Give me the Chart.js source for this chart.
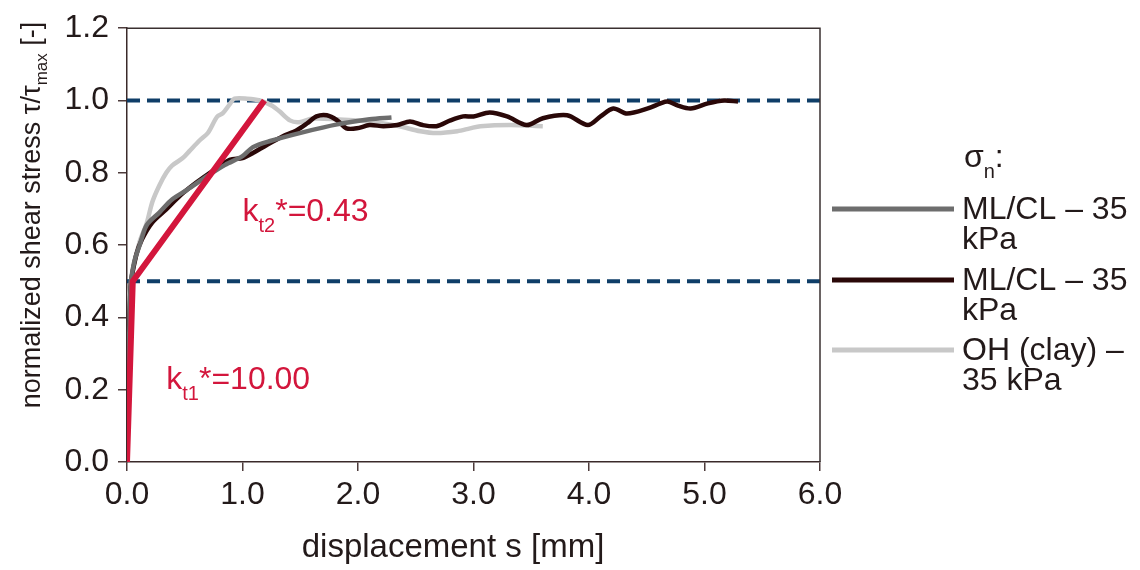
<!DOCTYPE html>
<html lang="en">
<head>
<meta charset="UTF-8">
<title>Shear stress vs displacement</title>
<script src="https://cdn.jsdelivr.net/npm/chart.js"></script>
<style>
  body { margin: 0; background: #ffffff; }
  #wrap { width: 1140px; height: 570px; }
</style>
</head>
<body>
<div id="wrap"><canvas id="myChart" width="1140" height="570"></canvas></div>

<script>
// displacement ticks / value ticks
const xTicks = [0, 1, 2, 3, 4, 5, 6]
const yTicks = [0, 0.2, 0.4, 0.6, 0.8, 1.0, 1.2]

// ML/CL - 35 kPa (grey)
const mlGreyX = [0, 0.03, 0.06, 0.11, 0.17, 0.28, 0.39, 0.52, 0.70, 0.85, 1.0, 1.09, 1.24, 1.52, 1.82, 2.10, 2.29]
const mlGreyY = [0, 0.48, 0.55, 0.60, 0.655, 0.69, 0.726, 0.753, 0.792, 0.822, 0.846, 0.871, 0.888, 0.912, 0.934, 0.948, 0.953]

// ML/CL - 35 kPa (dark)
const mlDarkX = [0, 0.03, 0.08, 0.13, 0.22, 0.34, 0.46, 0.60, 0.74, 0.89, 1.00, 1.09, 1.21, 1.35, 1.47, 1.56, 1.64, 1.73, 1.82, 1.90, 1.99, 2.10, 2.22, 2.34, 2.45, 2.56, 2.68, 2.80, 2.91, 3.00, 3.14, 3.29, 3.46, 3.60, 3.81, 3.99, 4.10, 4.21, 4.33, 4.51, 4.62, 4.68, 4.77, 4.88, 5.03, 5.17, 5.29]
const mlDarkY = [0, 0.48, 0.573, 0.616, 0.663, 0.699, 0.737, 0.773, 0.805, 0.836, 0.841, 0.855, 0.877, 0.901, 0.918, 0.937, 0.956, 0.959, 0.945, 0.923, 0.923, 0.932, 0.929, 0.932, 0.942, 0.932, 0.929, 0.945, 0.956, 0.956, 0.967, 0.956, 0.932, 0.951, 0.959, 0.932, 0.956, 0.978, 0.964, 0.978, 0.992, 0.997, 0.986, 0.978, 0.992, 1.0, 0.997]

// OH (clay) - 35 kPa (light grey)
const ohX = [0, 0.02, 0.05, 0.11, 0.17, 0.22, 0.28, 0.34, 0.39, 0.48, 0.54, 0.63, 0.70, 0.78, 0.83, 0.89, 0.93, 1.04, 1.15, 1.26, 1.32, 1.41, 1.49, 1.61, 1.82, 2.10, 2.34, 2.54, 2.68, 2.86, 2.97, 3.06, 3.32, 3.60]
const ohY = [0, 0.45, 0.53, 0.61, 0.66, 0.72, 0.765, 0.80, 0.82, 0.84, 0.86, 0.89, 0.91, 0.955, 0.965, 0.99, 1.005, 1.005, 1.0, 0.985, 0.97, 0.945, 0.94, 0.95, 0.948, 0.942, 0.93, 0.915, 0.91, 0.915, 0.923, 0.929, 0.932, 0.929]

// bilinear stiffness fit (red)
const fitX = [0, 0.05, 1.19]
const fitY = [0, 0.5, 1.0]

// reference levels (dashed)
const levelX = [0, 6]
const levelHigh = [1.0, 1.0]
const levelLow = [0.5, 0.5]

const fonte = "'Liberation Sans', Arial, sans-serif"
const corTexto = '#231a1a'
const corVermelho = '#d3163c'

function pares(xs, ys) {
    return xs.map((x, i) => ({ x: x, y: ys[i] }))
}

function linha(data, cor, largura, ordem, curva, dash) {
    return {
        data: data,
        showLine: true,
        borderColor: cor,
        borderWidth: largura,
        borderDash: dash || [],
        pointRadius: 0,
        tension: curva,
        order: ordem,
        fill: false
    }
}

// escreve texto com partes subscritas
function textoSub(ctx, x, y, partes) {
    let cx = x
    partes.forEach(p => {
        ctx.font = p[1] + 'px ' + fonte
        ctx.fillText(p[0], cx, y + p[2])
        cx += ctx.measureText(p[0]).width
    })
}

const extras = {
    id: 'extras',
    afterDraw(chart) {
        const ctx = chart.ctx
        const a = chart.chartArea
        const sx = chart.scales.x
        const sy = chart.scales.y
        ctx.save()

        // moldura superior e direita
        ctx.strokeStyle = '#3a3030'
        ctx.lineWidth = 1.5
        ctx.beginPath()
        ctx.moveTo(a.left, a.top)
        ctx.lineTo(a.right, a.top)
        ctx.lineTo(a.right, a.bottom)
        ctx.stroke()

        ctx.textBaseline = 'middle'
        ctx.textAlign = 'left'

        // anotações
        ctx.fillStyle = corVermelho
        textoSub(ctx, sx.getPixelForValue(1.0), sy.getPixelForValue(0.69), [['k', 32, 0], ['t2', 20, 14], ['*=0.43', 32, 0]])
        textoSub(ctx, sx.getPixelForValue(0.34), sy.getPixelForValue(0.225), [['k', 32, 0], ['t1', 20, 14], ['*=10.00', 32, 0]])

        // título eixo x
        ctx.fillStyle = corTexto
        ctx.textAlign = 'center'
        ctx.font = '33px ' + fonte
        ctx.fillText('displacement s [mm]', 453, 548)

        // título eixo y
        ctx.save()
        ctx.translate(33, 215)
        ctx.rotate(-Math.PI / 2)
        ctx.textAlign = 'left'
        ctx.font = '27px ' + fonte
        const p1 = 'normalized shear stress τ/τ'
        const p2 = 'max'
        const p3 = ' [-]'
        const w1 = ctx.measureText(p1).width
        const w3 = ctx.measureText(p3).width
        ctx.font = '17px ' + fonte
        const w2 = ctx.measureText(p2).width
        const x0 = -(w1 + w2 + w3) / 2
        textoSub(ctx, x0, 0, [[p1, 27, 0], [p2, 17, 9], [p3, 27, 0]])
        ctx.restore()

        // legenda
        ctx.textAlign = 'left'
        ctx.fillStyle = corTexto
        textoSub(ctx, 964, 158, [['σ', 32, 0], ['n', 20, 14], [':', 32, 0]])
        const itens = [
            { cor: '#6d6d6d', y: 209, linhas: ['ML/CL – 35', 'kPa'] },
            { cor: '#2a0808', y: 280, linhas: ['ML/CL – 35', 'kPa'] },
            { cor: '#c8c8c8', y: 350, linhas: ['OH (clay) –', '35 kPa'] }
        ]
        itens.forEach(it => {
            ctx.strokeStyle = it.cor
            ctx.lineWidth = 5
            ctx.beginPath()
            ctx.moveTo(832, it.y)
            ctx.lineTo(954, it.y)
            ctx.stroke()
            ctx.font = '32px ' + fonte
            ctx.fillText(it.linhas[0], 962, it.y + 1)
            ctx.fillText(it.linhas[1], 962, it.y + 31)
        })

        ctx.restore()
    }
}

const config = {
    type: 'scatter',
    data: {
        datasets: [
            linha(pares(fitX, fitY), corVermelho, 6, 0, 0),
            linha(pares(mlGreyX, mlGreyY), '#6d6d6d', 4.5, 1, 0.3),
            linha(pares(mlDarkX, mlDarkY), '#2a0808', 4.5, 2, 0.3),
            linha(pares(ohX, ohY), '#c8c8c8', 4.5, 3, 0.3),
            linha(pares(levelX, levelHigh), '#0f3e68', 4, 4, 0, [13, 7]),
            linha(pares(levelX, levelLow), '#0f3e68', 4, 4, 0, [13, 7])
        ]
    },
    options: {
        responsive: false,
        animation: false,
        devicePixelRatio: 1,
        layout: { padding: { left: 0, top: 24, right: 320, bottom: 0 } },
        plugins: {
            legend: { display: false },
            tooltip: { enabled: false }
        },
        scales: {
            x: {
                type: 'linear',
                min: xTicks[0],
                max: xTicks[xTicks.length - 1],
                afterFit: s => { s.height = 108 },
                afterBuildTicks: s => { s.ticks = xTicks.map(v => ({ value: v })) },
                ticks: {
                    callback: v => v.toFixed(1),
                    font: { size: 32, family: fonte },
                    color: corTexto,
                    padding: 5,
                    maxRotation: 0
                },
                grid: { drawOnChartArea: false, tickLength: 9, color: '#4d3b3b', lineWidth: 1.5 },
                border: { color: '#3a2a2a', width: 1.5 }
            },
            y: {
                min: yTicks[0],
                max: yTicks[yTicks.length - 1],
                afterFit: s => { s.width = 127 },
                afterBuildTicks: s => { s.ticks = yTicks.map(v => ({ value: v })) },
                ticks: {
                    callback: v => v.toFixed(1),
                    font: { size: 32, family: fonte },
                    color: corTexto,
                    padding: 9
                },
                grid: { drawOnChartArea: false, tickLength: 9, color: '#4d3b3b', lineWidth: 1.5 },
                border: { color: '#3a2a2a', width: 1.5 }
            }
        }
    },
    plugins: [extras]
}

const myChart = new Chart(document.getElementById('myChart'), config)
</script>
</body>
</html>
